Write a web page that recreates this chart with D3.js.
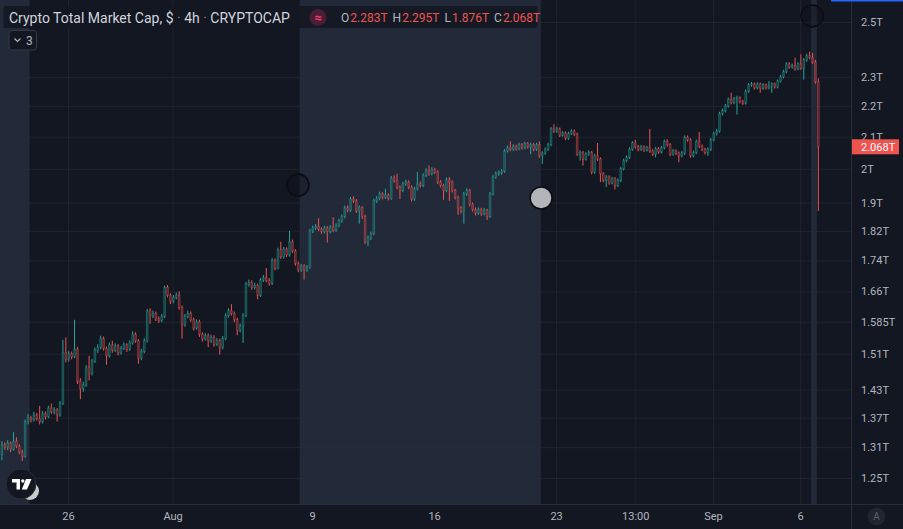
<!DOCTYPE html>
<html>
<head>
<meta charset="utf-8">
<script src="https://cdn.jsdelivr.net/npm/d3@7"></script>
<style>
  html, body { margin: 0; padding: 0; background: #131722; overflow: hidden; }
  svg { display: block; font-family: Roboto, "Noto Sans", sans-serif; }
</style>
</head>
<body>
<div id="chart"></div>
<script>
// 4h candles of the total crypto market cap, in trillions of USD.
var firstBarTime = Date.UTC(2021, 6, 22, 5);
var barHours = 4;
var firstOpen = 1.296;

var closes = [
  1.315,1.310,1.318,1.306,1.322,1.312,1.300,1.292,1.362,1.370,
  1.366,1.375,1.368,1.362,1.378,1.372,1.390,1.382,1.386,1.376,
  1.400,1.512,1.498,1.510,1.503,1.520,1.448,1.432,1.440,1.478,
  1.465,1.493,1.518,1.525,1.545,1.522,1.505,1.530,1.518,1.528,
  1.512,1.522,1.530,1.520,1.535,1.555,1.540,1.500,1.515,1.540,
  1.611,1.600,1.605,1.592,1.588,1.598,1.670,1.650,1.635,1.645,
  1.650,1.620,1.578,1.598,1.605,1.590,1.570,1.585,1.555,1.545,
  1.552,1.540,1.548,1.532,1.540,1.525,1.545,1.600,1.612,1.605,
  1.590,1.565,1.575,1.600,1.678,1.682,1.670,1.675,1.650,1.689,
  1.695,1.688,1.680,1.740,1.720,1.768,1.750,1.770,1.755,1.790,
  1.765,1.732,1.715,1.725,1.715,1.722,1.820,1.828,1.832,1.825,
  1.818,1.828,1.818,1.830,1.822,1.835,1.848,1.860,1.885,1.878,
  1.910,1.905,1.876,1.885,1.860,1.790,1.800,1.812,1.905,1.912,
  1.925,1.915,1.922,1.912,1.972,1.965,1.945,1.935,1.955,1.960,
  1.945,1.910,1.940,1.955,1.950,1.980,1.995,1.985,1.998,1.990,
  1.960,1.950,1.935,1.968,1.960,1.935,1.915,1.885,1.875,1.925,
  1.935,1.895,1.880,1.870,1.880,1.868,1.878,1.860,1.925,1.975,
  1.985,1.988,1.992,2.055,2.065,2.060,2.070,2.062,2.075,2.065,
  2.078,2.068,2.075,2.060,2.075,2.040,2.048,2.060,2.075,2.125,
  2.118,2.125,2.105,2.112,2.095,2.110,2.118,2.108,2.045,2.050,
  2.030,2.045,2.050,1.990,2.040,2.030,1.985,1.965,1.975,1.958,
  1.970,1.950,1.965,2.000,2.025,2.035,2.060,2.080,2.068,2.060,
  2.068,2.058,2.065,2.055,2.045,2.062,2.052,2.065,2.085,2.075,
  2.045,2.055,2.048,2.040,2.048,2.098,2.090,2.040,2.050,2.085,
  2.070,2.060,2.050,2.060,2.090,2.110,2.118,2.175,2.185,2.200,
  2.222,2.212,2.225,2.228,2.215,2.210,2.250,2.272,2.275,2.262,
  2.275,2.260,2.272,2.262,2.268,2.275,2.265,2.285,2.300,2.318,
  2.345,2.335,2.340,2.328,2.345,2.330,2.360,2.375,2.368,2.352,
  2.283,2.068
];

var highs = [
  1.322,1.320,1.324,1.321,1.340,1.330,1.316,1.305,1.366,1.378,
  1.374,1.382,1.380,1.395,1.384,1.383,1.395,1.400,1.392,1.390,
  1.405,1.542,1.548,1.516,1.515,1.590,1.526,1.455,1.447,1.484,
  1.505,1.498,1.524,1.532,1.552,1.550,1.527,1.536,1.540,1.534,
  1.532,1.528,1.536,1.534,1.541,1.562,1.560,1.544,1.521,1.546,
  1.616,1.618,1.612,1.610,1.598,1.604,1.675,1.676,1.655,1.651,
  1.657,1.660,1.625,1.604,1.612,1.610,1.595,1.591,1.590,1.560,
  1.558,1.557,1.554,1.553,1.546,1.545,1.551,1.606,1.618,1.628,
  1.610,1.595,1.581,1.606,1.684,1.690,1.688,1.682,1.680,1.694,
  1.702,1.720,1.694,1.746,1.745,1.774,1.790,1.776,1.775,1.820,
  1.796,1.770,1.737,1.731,1.730,1.728,1.826,1.835,1.839,1.855,
  1.830,1.834,1.833,1.836,1.858,1.841,1.854,1.866,1.891,1.892,
  1.916,1.918,1.910,1.892,1.890,1.865,1.807,1.818,1.911,1.919,
  1.932,1.930,1.940,1.927,1.978,1.980,1.985,1.950,1.961,1.967,
  1.965,1.950,1.946,1.990,1.962,1.986,2.002,2.010,2.005,2.003,
  1.995,1.966,1.955,1.974,1.975,1.965,1.940,1.920,1.890,1.931,
  1.942,1.940,1.900,1.886,1.886,1.885,1.884,1.882,1.931,1.981,
  1.992,1.995,1.999,2.061,2.072,2.085,2.076,2.075,2.081,2.080,
  2.084,2.083,2.081,2.080,2.081,2.085,2.054,2.066,2.081,2.131,
  2.140,2.132,2.130,2.118,2.117,2.116,2.124,2.123,2.113,2.057,
  2.055,2.051,2.057,2.055,2.046,2.080,2.035,1.990,1.981,1.980,
  1.976,1.975,1.971,2.006,2.031,2.041,2.066,2.086,2.090,2.074,
  2.074,2.073,2.071,2.125,2.060,2.068,2.067,2.071,2.091,2.092,
  2.080,2.061,2.060,2.053,2.054,2.104,2.104,2.095,2.056,2.091,
  2.115,2.075,2.065,2.066,2.096,2.116,2.125,2.181,2.192,2.207,
  2.229,2.245,2.231,2.235,2.233,2.221,2.256,2.279,2.282,2.280,
  2.281,2.280,2.278,2.277,2.285,2.281,2.280,2.291,2.307,2.325,
  2.352,2.352,2.347,2.368,2.352,2.380,2.366,2.382,2.390,2.385,
  2.360,2.295
];

var lows = [
  1.284,1.305,1.304,1.300,1.303,1.308,1.296,1.283,1.289,1.356,
  1.360,1.362,1.364,1.356,1.358,1.366,1.369,1.378,1.377,1.362,
  1.372,1.397,1.490,1.492,1.497,1.500,1.442,1.409,1.425,1.436,
  1.450,1.461,1.489,1.512,1.520,1.517,1.485,1.501,1.512,1.514,
  1.506,1.508,1.518,1.514,1.516,1.531,1.535,1.487,1.495,1.511,
  1.536,1.580,1.594,1.587,1.582,1.584,1.594,1.645,1.628,1.630,
  1.640,1.614,1.545,1.573,1.593,1.585,1.564,1.566,1.549,1.538,
  1.540,1.525,1.535,1.526,1.528,1.508,1.520,1.541,1.595,1.600,
  1.584,1.553,1.560,1.535,1.596,1.672,1.664,1.665,1.640,1.646,
  1.684,1.683,1.674,1.676,1.714,1.716,1.744,1.745,1.749,1.750,
  1.760,1.726,1.709,1.710,1.690,1.710,1.718,1.814,1.822,1.819,
  1.812,1.813,1.788,1.813,1.816,1.817,1.830,1.843,1.855,1.872,
  1.873,1.899,1.870,1.840,1.853,1.784,1.778,1.795,1.808,1.899,
  1.907,1.909,1.910,1.906,1.908,1.958,1.939,1.910,1.930,1.949,
  1.939,1.903,1.905,1.935,1.944,1.945,1.975,1.979,1.980,1.984,
  1.954,1.944,1.908,1.930,1.905,1.929,1.909,1.865,1.868,1.840,
  1.919,1.889,1.874,1.863,1.865,1.862,1.863,1.850,1.856,1.920,
  1.970,1.979,1.982,1.988,2.050,2.054,2.055,2.056,2.057,2.059,
  2.060,2.062,2.045,2.054,2.055,2.034,2.015,2.043,2.055,2.070,
  2.112,2.112,2.099,2.100,2.089,2.090,2.105,2.102,2.039,2.025,
  2.010,2.025,2.040,1.983,1.985,2.024,1.960,1.959,1.945,1.952,
  1.953,1.938,1.945,1.960,1.995,2.020,2.030,2.055,2.062,2.054,
  2.055,2.052,2.053,2.049,2.039,2.035,2.046,2.047,2.060,2.069,
  2.039,2.040,2.042,2.020,2.035,2.043,2.084,2.034,2.035,2.045,
  2.064,2.054,2.044,2.040,2.055,2.085,2.104,2.113,2.169,2.179,
  2.195,2.206,2.206,2.172,2.209,2.204,2.205,2.245,2.266,2.256,
  2.257,2.245,2.255,2.256,2.257,2.245,2.259,2.260,2.280,2.295,
  2.313,2.329,2.329,2.322,2.323,2.324,2.290,2.354,2.362,2.346,
  2.276,1.876
];

// Price axis (log scale), labels as shown.
var priceDomain = [1.25, 2.5];
var priceTicks = [1.25, 1.31, 1.37, 1.43, 1.51, 1.585, 1.66, 1.74, 1.82, 1.9, 2, 2.1, 2.2, 2.3, 2.5];
var priceTickLabels = ['1.25T', '1.31T', '1.37T', '1.43T', '1.51T', '1.585T', '1.66T', '1.74T',
                       '1.82T', '1.9T', '2T', '2.1T', '2.2T', '2.3T', '2.5T'];

// Time axis.
var timeDomain = [Date.UTC(2021, 6, 22, 2, 22), Date.UTC(2021, 8, 8, 22, 0)];
var timeTicks = [Date.UTC(2021, 6, 26), Date.UTC(2021, 7, 1), Date.UTC(2021, 7, 9), Date.UTC(2021, 7, 16),
                 Date.UTC(2021, 7, 23), Date.UTC(2021, 7, 27, 13), Date.UTC(2021, 8, 1), Date.UTC(2021, 8, 6)];
var timeTickLabels = ['26', 'Aug', '9', '16', '23', '13:00', 'Sep', '6'];

// Highlighted bar ranges (first and last bar index).
var bandFirstBar = [-2, 103, 279];
var bandLastBar = [9, 185, 280];

// Chart markers: time and price.
var markerTimes = [Date.UTC(2021, 7, 8, 4, 40), Date.UTC(2021, 7, 22, 3, 20), Date.UTC(2021, 8, 6, 16, 30)];
var markerPrices = [1.951, 1.913, 2.523];
var markerFilled = [false, true, false];

(function() {
  'use strict';

  var width = 903, height = 529;
  var plotW = 851, plotH = 504;

  var upColor = '#26a69a', downColor = '#ef5350';
  var textColor = '#b2b5be', lineColor = '#2a2e39';

  var bars = closes.map(function(c, i) {
    return {
      t: new Date(firstBarTime + i * barHours * 3600e3),
      // a 4h bar opens where the previous one closed
      o: i ? closes[i - 1] : firstOpen,
      h: highs[i],
      l: lows[i],
      c: c
    };
  });

  var x = d3.scaleUtc().domain(timeDomain).range([0, plotW]);
  var y = d3.scaleLog().domain(priceDomain).range([478, 22]);
  var barStep = x(new Date(firstBarTime + barHours * 3600e3)) - x(new Date(firstBarTime));
  var barTime = function(i) { return new Date(firstBarTime + i * barHours * 3600e3); };

  var svg = d3.select('#chart').append('svg')
      .attr('width', width)
      .attr('height', height);

  svg.append('rect').attr('width', width).attr('height', height).attr('fill', '#131722');

  var defs = svg.append('defs');
  defs.append('clipPath').attr('id', 'plot-clip')
    .append('rect').attr('width', plotW).attr('height', plotH);

  var plot = svg.append('g').attr('clip-path', 'url(#plot-clip)');

  // Background bands.
  plot.selectAll('.band')
    .data(bandFirstBar.map(function(d, i) { return [d, bandLastBar[i]]; }))
    .enter().append('rect')
      .attr('class', 'band')
      .attr('x', function(d) { return x(barTime(d[0])) - barStep / 2; })
      .attr('width', function(d) { return x(barTime(d[1])) - x(barTime(d[0])) + barStep; })
      .attr('y', 0)
      .attr('height', plotH)
      .attr('fill', '#222939');

  // Grid.
  plot.append('g')
      .attr('class', 'grid-y')
      .call(d3.axisRight(y).tickValues(priceTicks).tickSize(plotW).tickFormat(''))
      .call(function(g) {
        g.select('.domain').remove();
        g.selectAll('line').attr('stroke', lineColor).attr('stroke-opacity', 0.55);
      });

  plot.append('g')
      .attr('class', 'grid-x')
      .call(d3.axisBottom(x).tickValues(timeTicks.map(function(d) { return new Date(d); }))
              .tickSize(plotH).tickFormat(''))
      .call(function(g) {
        g.select('.domain').remove();
        g.selectAll('line').attr('stroke', lineColor).attr('stroke-opacity', 0.55);
      });

  // Candles.
  var candles = plot.append('g').selectAll('.candle')
    .data(bars)
    .enter().append('g')
      .attr('class', 'candle');

  function col(d) { return d.c >= d.o ? upColor : downColor; }

  candles.append('line')
      .attr('x1', function(d) { return x(d.t); })
      .attr('x2', function(d) { return x(d.t); })
      .attr('y1', function(d) { return y(d.h); })
      .attr('y2', function(d) { return y(Math.max(d.o, d.c)); })
      .attr('stroke', col)
      .attr('stroke-width', 1);

  candles.append('line')
      .attr('x1', function(d) { return x(d.t); })
      .attr('x2', function(d) { return x(d.t); })
      .attr('y1', function(d) { return y(Math.min(d.o, d.c)); })
      .attr('y2', function(d) { return y(d.l); })
      .attr('stroke', col)
      .attr('stroke-width', 1);

  candles.append('rect')
      .attr('x', function(d) { return x(d.t) - 0.8; })
      .attr('width', 1.6)
      .attr('y', function(d) { return y(Math.max(d.o, d.c)); })
      .attr('height', function(d) { return Math.max(0.8, y(Math.min(d.o, d.c)) - y(Math.max(d.o, d.c))); })
      .attr('fill', col)
      .attr('fill-opacity', 0.22)
      .attr('stroke', col)
      .attr('stroke-opacity', 0.45)
      .attr('stroke-width', 1);

  // Markers.
  plot.selectAll('.marker')
    .data(markerTimes.map(function(t, i) { return {t: new Date(t), p: markerPrices[i], filled: markerFilled[i]}; }))
    .enter().append('circle')
      .attr('class', 'marker')
      .attr('cx', function(d) { return x(d.t); })
      .attr('cy', function(d) { return y(d.p); })
      .attr('r', 11)
      .attr('fill', function(d) { return d.filled ? '#b4b5ba' : 'rgba(10,12,18,0.25)'; })
      .attr('stroke', '#0b0d12')
      .attr('stroke-width', 1.6);

  // Axis separators.
  svg.append('line').attr('x1', plotW + 0.5).attr('x2', plotW + 0.5).attr('y1', 0).attr('y2', height)
      .attr('stroke', lineColor);
  svg.append('line').attr('x1', 0).attr('x2', width).attr('y1', plotH + 0.5).attr('y2', plotH + 0.5)
      .attr('stroke', lineColor);

  // Price axis labels.
  svg.append('g')
      .attr('transform', 'translate(' + (plotW + 1) + ',0)')
      .call(d3.axisRight(y).tickValues(priceTicks).tickSize(0).tickPadding(9)
              .tickFormat(function(d, i) { return priceTickLabels[i]; }))
      .call(function(g) {
        g.select('.domain').remove();
        g.selectAll('text').attr('fill', textColor).attr('font-size', 11)
          .attr('font-family', 'Roboto, sans-serif');
      });

  // Time axis labels.
  svg.append('g')
      .attr('transform', 'translate(0,' + plotH + ')')
      .call(d3.axisBottom(x).tickValues(timeTicks.map(function(d) { return new Date(d); }))
              .tickSize(0).tickPadding(8)
              .tickFormat(function(d, i) { return timeTickLabels[i]; }))
      .call(function(g) {
        g.select('.domain').remove();
        g.selectAll('text').attr('fill', textColor).attr('font-size', 11)
          .attr('font-family', 'Roboto, sans-serif');
      });

  // Last price label.
  var last = bars[bars.length - 1];
  var fmt = function(v) { return d3.format('.3f')(v) + 'T'; };
  var py = y(last.c);
  svg.append('rect').attr('x', plotW + 1).attr('y', py - 7.5).attr('width', 47).attr('height', 15)
      .attr('fill', downColor);
  svg.append('text').attr('x', plotW + 10).attr('y', py).attr('dy', '0.35em')
      .attr('fill', '#ffffff').attr('font-size', 11).text(fmt(last.c));

  // Header legend.
  var header = svg.append('g');
  header.append('rect').attr('x', 3.5).attr('y', 6).attr('width', 534).attr('height', 22)
      .attr('rx', 2).attr('fill', '#131722').attr('fill-opacity', 0.9);
  var title = header.append('text').attr('x', 9).attr('y', 22.5).attr('font-size', 14).attr('fill', '#d1d4dc');
  title.append('tspan').text('Crypto Total Market Cap, $ ');
  title.append('tspan').attr('fill', '#787b86').text('·');
  title.append('tspan').text(' 4h ');
  title.append('tspan').attr('fill', '#787b86').text('·');
  title.append('tspan').text(' CRYPTOCAP');

  header.append('circle').attr('cx', 318).attr('cy', 17.5).attr('r', 8.5).attr('fill', '#4a1d36');
  header.append('text').attr('x', 318).attr('y', 17.5).attr('dy', '0.35em').attr('text-anchor', 'middle')
      .attr('font-size', 13).attr('font-weight', 'bold').attr('fill', '#f23d6e').text('≈');

  var ohlc = header.append('text').attr('x', 341).attr('y', 22).attr('font-size', 12);
  [['O', last.o], ['H', last.h], ['L', last.l], ['C', last.c]].forEach(function(p, i) {
    ohlc.append('tspan').attr('fill', textColor).attr('dx', i ? 5 : 0).text(p[0]);
    ohlc.append('tspan').attr('fill', downColor).attr('dx', 1).text(fmt(p[1]));
  });

  // Collapse button.
  var btn = svg.append('g');
  btn.append('rect').attr('x', 9).attr('y', 30.5).attr('width', 27.5).attr('height', 19.5).attr('rx', 3)
      .attr('fill', '#131722').attr('stroke', '#363a45');
  btn.append('path').attr('d', 'M14.5,38.5 L17.5,41.5 L20.5,38.5').attr('fill', 'none')
      .attr('stroke', '#b2b5be').attr('stroke-width', 1.2);
  btn.append('text').attr('x', 26).attr('y', 44.5).attr('font-size', 12).attr('fill', '#b2b5be').text('3');

  // Logo.
  var logo = svg.append('g');
  logo.append('circle').attr('cx', 30).attr('cy', 491).attr('r', 9).attr('fill', '#c9cacd');
  logo.append('circle').attr('cx', 21).attr('cy', 484).attr('r', 15).attr('fill', '#131722')
      .attr('stroke', '#2a2e39');
  logo.append('path').attr('d', 'M12,479 H20 V489.5 H16.5 V482.5 H12 Z').attr('fill', '#ffffff');
  logo.append('circle').attr('cx', 22.8).attr('cy', 481).attr('r', 1.7).attr('fill', '#ffffff');
  logo.append('path').attr('d', 'M26,479 H31.5 L27,489.5 H21.8 Z').attr('fill', '#ffffff');

  // Auto-scale button.
  svg.append('circle').attr('cx', 876.5).attr('cy', 516.5).attr('r', 9).attr('fill', '#22252f');
  svg.append('text').attr('x', 876.5).attr('y', 516.5).attr('dy', '0.35em').attr('text-anchor', 'middle')
      .attr('font-size', 10).attr('fill', '#5d606b').text('A');

  svg.append('rect').attr('x', 831).attr('y', 0).attr('width', width - 831).attr('height', 1.5)
      .attr('fill', '#2962ff');
}());
</script>
</body>
</html>
